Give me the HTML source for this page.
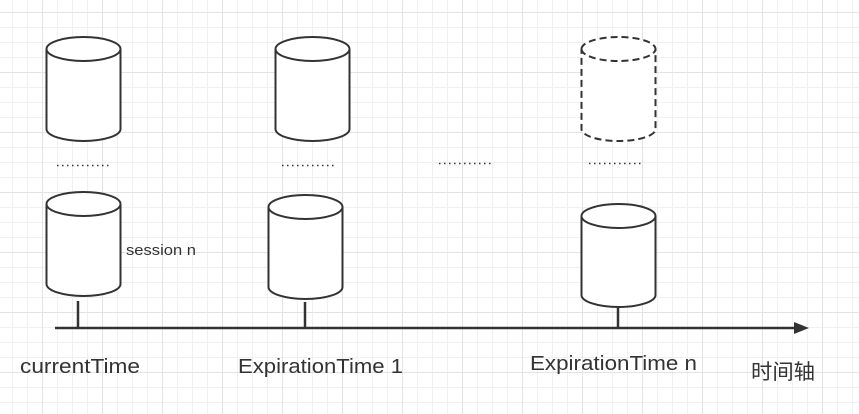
<!DOCTYPE html>
<html><head><meta charset="utf-8"><style>
html,body{margin:0;padding:0;background:#fff;}
svg{display:block;}
text{font-family:"Liberation Sans","Noto Sans CJK SC",sans-serif;fill:#333;}
</style></head><body>
<svg width="859" height="414" viewBox="0 0 859 414" xmlns="http://www.w3.org/2000/svg">
<defs>
<pattern id="minor" x="12" y="12" width="15" height="15" patternUnits="userSpaceOnUse">
<path d="M0.5 0V15M0 0.5H15" stroke="#f0f0f0" stroke-width="1" fill="none"/>
</pattern>
<pattern id="major" x="42" y="12" width="60" height="60" patternUnits="userSpaceOnUse">
<path d="M0.5 0V60M0 0.5H60" stroke="#e3e3e3" stroke-width="1" fill="none"/>
</pattern>
</defs>
<rect width="859" height="414" fill="url(#minor)"/>
<rect width="859" height="414" fill="url(#major)"/>
<g fill="#fff" stroke="#333" stroke-width="2">
<path d="M46.5 49 A37 12 0 0 1 120.5 49 V129 A37 12 0 0 1 46.5 129 Z"/>
<path d="M46.5 49 A37 12 0 0 0 120.5 49" fill="none"/>
<path d="M275.5 49 A37 12 0 0 1 349.5 49 V129 A37 12 0 0 1 275.5 129 Z"/>
<path d="M275.5 49 A37 12 0 0 0 349.5 49" fill="none"/>
<g stroke-dasharray="7 4">
<path d="M581.5 49 A37 12 0 0 1 655.5 49 V129 A37 12 0 0 1 581.5 129 Z"/>
<path d="M581.5 49 A37 12 0 0 0 655.5 49" fill="none"/>
</g>
<path d="M46.5 204 A37 12 0 0 1 120.5 204 V284 A37 12 0 0 1 46.5 284 Z"/>
<path d="M46.5 204 A37 12 0 0 0 120.5 204" fill="none"/>
<path d="M268.5 207 A37 12 0 0 1 342.5 207 V287 A37 12 0 0 1 268.5 287 Z"/>
<path d="M268.5 207 A37 12 0 0 0 342.5 207" fill="none"/>
<path d="M581.5 216 A37 12 0 0 1 655.5 216 V295 A37 12 0 0 1 581.5 295 Z"/>
<path d="M581.5 216 A37 12 0 0 0 655.5 216" fill="none"/>
</g>
<g stroke="#333" stroke-width="1.5" stroke-dasharray="1.5 3.5" fill="none">
<line x1="57" y1="165.5" x2="109" y2="165.5"/>
<line x1="282" y1="165.5" x2="334" y2="165.5"/>
<line x1="439" y1="163.5" x2="491" y2="163.5"/>
<line x1="589" y1="163.5" x2="641" y2="163.5"/>
</g>
<g stroke="#333" stroke-width="2.5" fill="none">
<line x1="55" y1="328" x2="797" y2="328"/>
<line x1="78" y1="301" x2="78" y2="328"/>
<line x1="305" y1="302" x2="305" y2="328"/>
<line x1="618" y1="308" x2="618" y2="328"/>
</g>
<path d="M794 322 L809 328 L794 334 Z" fill="#333"/>
<text x="126" y="255" font-size="15" textLength="70" lengthAdjust="spacingAndGlyphs">session n</text>
<text x="20" y="373" font-size="20" textLength="120" lengthAdjust="spacingAndGlyphs">currentTime</text>
<text x="238" y="373" font-size="20" textLength="165" lengthAdjust="spacingAndGlyphs">ExpirationTime 1</text>
<text x="530" y="370" font-size="20" textLength="167" lengthAdjust="spacingAndGlyphs">ExpirationTime n</text>
<text x="751" y="379" font-size="21" textLength="64" lengthAdjust="spacingAndGlyphs">时间轴</text>
</svg>
</body></html>
